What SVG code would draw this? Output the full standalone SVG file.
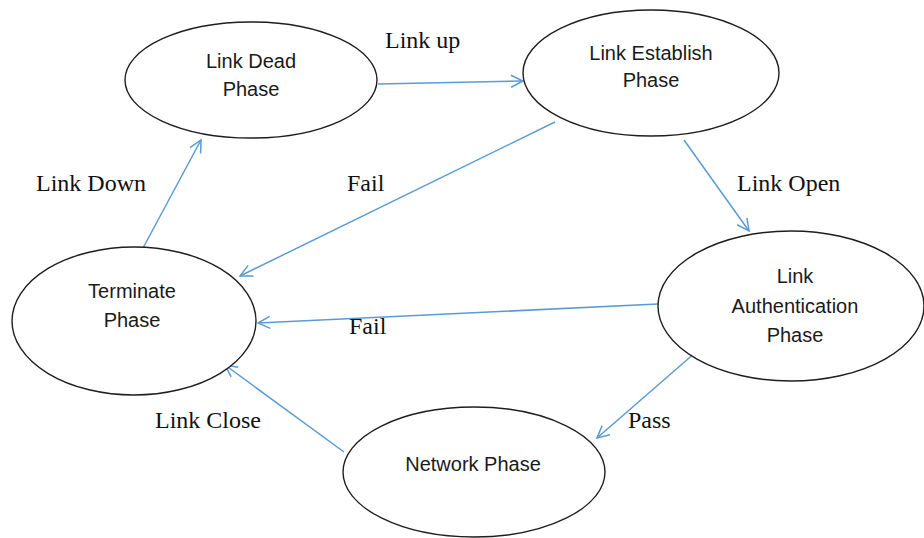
<svg xmlns="http://www.w3.org/2000/svg" width="924" height="538" viewBox="0 0 924 538">
  <style>
    .state ellipse { fill: #ffffff; stroke: #1e1e1e; stroke-width: 1.4; }
    .state text { font-family: "Liberation Sans", Arial, sans-serif; font-size: 20px; fill: #1a1a1a; text-anchor: middle; }
    .edge { fill: none; stroke: #5b9bd5; stroke-width: 1.5; marker-end: url(#arrow); }
    .lbl { font-family: "Liberation Serif", "Times New Roman", serif; font-size: 24px; fill: #111111; }
  </style>
  <defs>
    <marker id="arrow" markerUnits="userSpaceOnUse" markerWidth="16" markerHeight="16" viewBox="0 0 16 16" refX="14" refY="8" orient="auto">
      <path d="M2,2 L14,8 L2,14" fill="none" stroke="#5b9bd5" stroke-width="1.5"/>
    </marker>
  </defs>

  <rect width="924" height="538" fill="#ffffff"/>

  <!-- transitions -->
  <g id="connectors">
    <line class="edge" x1="378" y1="84" x2="523" y2="81"/>
    <line class="edge" x1="555" y1="122" x2="240" y2="276"/>
    <line class="edge" x1="684" y1="140" x2="749" y2="231"/>
    <line class="edge" x1="658" y1="304" x2="258" y2="323"/>
    <line class="edge" x1="696" y1="352" x2="597" y2="438"/>
    <line class="edge" x1="344" y1="452" x2="225" y2="365"/>
    <line class="edge" x1="143" y1="248" x2="201" y2="140"/>
  </g>

  <!-- transition labels -->
  <g id="labels">
    <text class="lbl" x="385" y="48">Link up</text>
    <text class="lbl" x="36" y="191">Link Down</text>
    <text class="lbl" x="347" y="191">Fail</text>
    <text class="lbl" x="737" y="191">Link Open</text>
    <text class="lbl" x="349" y="334">Fail</text>
    <text class="lbl" x="155" y="428">Link Close</text>
    <text class="lbl" x="628" y="428">Pass</text>
  </g>

  <!-- states -->
  <g id="link-dead" class="state">
    <ellipse cx="251" cy="80" rx="126" ry="58"/>
    <text x="251" y="68">Link Dead</text>
    <text x="251" y="96">Phase</text>
  </g>
  <g id="link-establish" class="state">
    <ellipse cx="651" cy="73" rx="128" ry="63"/>
    <text x="651" y="60">Link Establish</text>
    <text x="651" y="87">Phase</text>
  </g>
  <g id="terminate" class="state">
    <ellipse cx="134" cy="321" rx="122" ry="74"/>
    <text x="132" y="298">Terminate</text>
    <text x="132" y="327">Phase</text>
  </g>
  <g id="link-authentication" class="state">
    <ellipse cx="791" cy="306" rx="133" ry="75"/>
    <text x="795" y="283">Link</text>
    <text x="795" y="313">Authentication</text>
    <text x="795" y="342">Phase</text>
  </g>
  <g id="network" class="state">
    <ellipse cx="474" cy="472" rx="131" ry="65"/>
    <text x="473" y="471">Network Phase</text>
  </g>
</svg>
